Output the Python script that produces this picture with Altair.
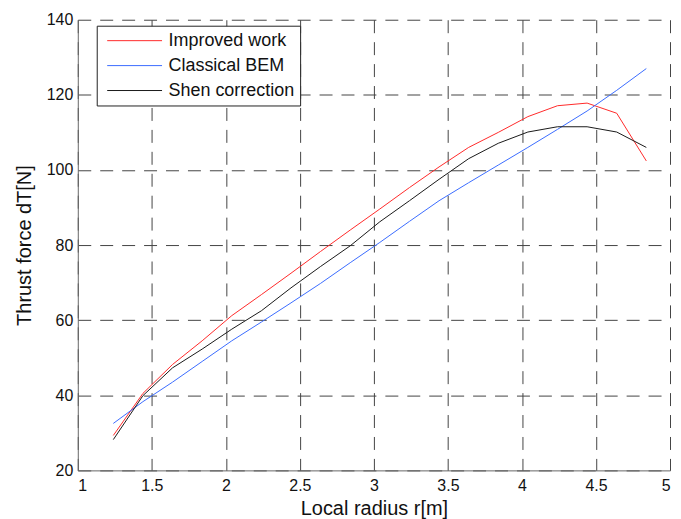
import altair as alt
import pandas as pd

radius = [1.24, 1.44, 1.64, 1.84, 2.04, 2.24, 2.44, 2.64, 2.84, 3.04,
          3.24, 3.44, 3.64, 3.84, 4.04, 4.24, 4.44, 4.64, 4.84]
improved = [29.3, 40.5, 48.2, 54.5, 61.2, 66.8, 72.5, 78.3, 84.0, 89.6,
            95.3, 100.8, 106.0, 110.0, 114.2, 117.1, 117.8, 115.1, 102.4]
classical = [32.5, 38.3, 43.5, 49.0, 54.5, 59.5, 64.6, 69.8, 75.3, 80.7,
             86.3, 91.8, 96.6, 101.3, 106.0, 110.8, 115.7, 121.2, 127.0]
shen = [28.2, 39.9, 47.3, 52.3, 57.6, 62.5, 68.6, 74.3, 79.8, 86.2,
        91.8, 97.5, 103.0, 107.1, 110.1, 111.5, 111.5, 110.1, 106.0]

series = ["Improved work", "Classical BEM", "Shen correction"]
colors = ["#ff2a2a", "#3b6cff", "#1a1a1a"]
x_ticks = [1, 1.5, 2, 2.5, 3, 3.5, 4, 4.5, 5]
y_ticks = [20, 40, 60, 80, 100, 120, 140]

rows = []
for k, (name, vals) in enumerate(zip(series, [improved, classical, shen])):
    for r, v in zip(radius, vals):
        rows.append({"r": r, "dT": v, "series": name, "k": k})
df = pd.DataFrame(rows)

FONT = "Liberation Sans"

chart = alt.Chart(df).mark_line(strokeWidth=1).encode(
    x=alt.X("r:Q",
            scale=alt.Scale(domain=[1, 5], nice=False, zero=False),
            axis=alt.Axis(values=x_ticks, format="~g", title="Local radius r[m]",
                          labelPadding=7, titlePadding=5)),
    y=alt.Y("dT:Q",
            scale=alt.Scale(domain=[20, 140], nice=False, zero=False),
            axis=alt.Axis(values=y_ticks, title="Thrust force dT[N]",
                          labelPadding=5, titlePadding=12)),
    color=alt.Color("series:N",
                    scale=alt.Scale(domain=series, range=colors),
                    legend=alt.Legend(title=None, orient="none", legendX=19, legendY=6,
                                      symbolType="stroke", symbolSize=3025,
                                      symbolStrokeWidth=1, labelFont=FONT,
                                      labelFontSize=18, labelColor="#111",
                                      labelOffset=6, strokeColor="#222",
                                      fillColor="white", padding=5,
                                      symbolOffset=5, clipHeight=20,
                                      rowPadding=5)),
    order=alt.Order("k:Q"),
    detail="series:N",
).properties(
    width=594, height=452,
    autosize=alt.AutoSizeParams(type="none"),
    padding={"left": 70, "top": 11, "right": 3, "bottom": 48},
).configure_view(
    strokeWidth=0
).configure_axis(
    ticks=False,
    grid=True,
    gridDash=[13, 9],
    gridColor="#444",
    gridOpacity=1,
    gridWidth=1,
    domainColor="#666",
    domainWidth=1,
    labelFont=FONT,
    labelFontSize=16,
    labelColor="#111",
    titleFont=FONT,
    titleFontSize=20,
    titleFontWeight="normal",
    titleColor="#111",
)

chart.save("out.html", embed_options={"renderer": "svg", "actions": False})
